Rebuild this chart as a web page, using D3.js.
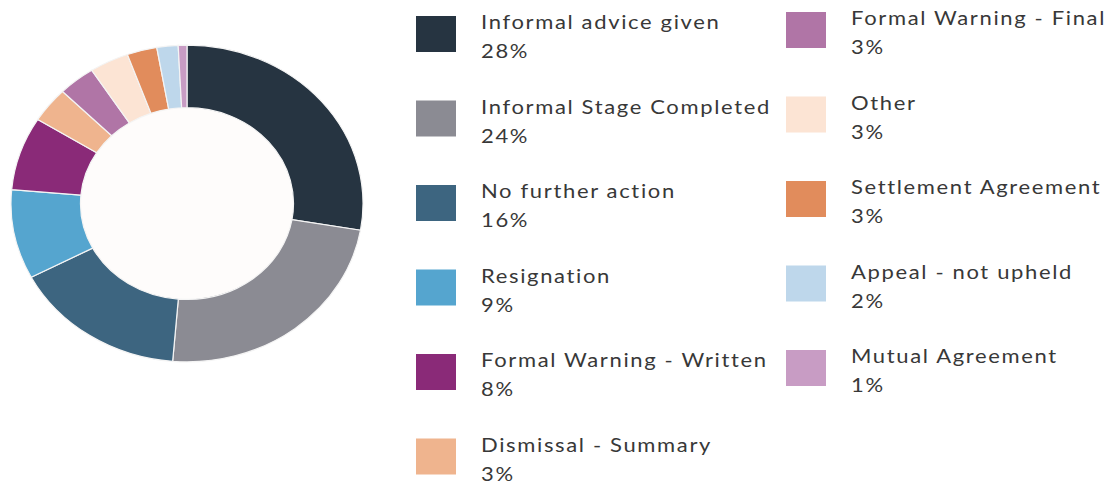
<!DOCTYPE html>
<html>
<head>
<meta charset="utf-8">
<script src="https://cdn.jsdelivr.net/npm/d3@7.9.0/dist/d3.min.js"></script>
<style>
  html, body { margin: 0; padding: 0; background: #fff; }
  svg { display: block; }
  .legend text { font-family: Lato, "Open Sans", sans-serif; font-size: 20px; letter-spacing: 1.5px; fill: #383838; }
</style>
</head>
<body>
<svg id="chart" width="1111" height="484"></svg>
<script>
const categories = [
  'Informal advice given', 'Informal Stage Completed', 'No further action',
  'Resignation', 'Formal Warning - Written', 'Dismissal - Summary',
  'Formal Warning - Final', 'Other', 'Settlement Agreement',
  'Appeal - not upheld', 'Mutual Agreement'
];
// rounded labels as printed in the legend
const percentLabels = [28, 24, 16, 9, 8, 3, 3, 3, 3, 2, 1];
// slice shares as measured off the donut
const shares = [27.7, 23.6, 16.0, 9.1, 7.5, 3.6, 3.4, 3.6, 2.75, 1.95, 0.8];
const colours = [
  '#263441', '#8b8b93', '#3d6580', '#55a5cf', '#8a2a78', '#efb48e',
  '#b075a6', '#fce4d4', '#e18c5c', '#bed7eb', '#c89cc4'
];

const data = categories.map((c, i) => ({
  label: c, value: shares[i], pct: percentLabels[i], color: colours[i]
}));

const svg = d3.select('#chart');

// donut (the original is squashed vertically)
const pieG = svg.append('g').attr('transform', 'translate(187,203.5) scale(1,0.9)');
const rOuter = 176, rInner = 106.5;

pieG.append('circle').attr('r', rInner).attr('fill', '#fefcfb');

const pie = d3.pie().sort(null).value(d => d.value);
const arc = d3.arc().innerRadius(rInner).outerRadius(rOuter);

pieG.selectAll('path')
  .data(pie(data))
  .join('path')
  .attr('d', arc)
  .attr('fill', d => d.data.color)
  .attr('stroke', '#f4f4f4')
  .attr('stroke-width', 1.2)
  .attr('vector-effect', 'non-scaling-stroke');

// legend: two columns, text is a bit stretched like the original
const cols = [
  { x: 416, top: 16, n: 6 },
  { x: 786, top: 12, n: 5 }
];
const rowStep = 84.5;
const legend = svg.append('g').attr('class', 'legend');

let idx = 0;
cols.forEach(col => {
  const items = data.slice(idx, idx + col.n);
  idx += col.n;
  const g = legend.append('g');
  const rows = g.selectAll('g')
    .data(items)
    .join('g')
    .attr('transform', (d, i) => `translate(${col.x},${col.top + i * rowStep})`);
  rows.append('rect')
    .attr('width', 40).attr('height', 36)
    .attr('fill', d => d.color);
  rows.append('text')
    .attr('transform', 'translate(65,13) scale(1.1,1)')
    .text(d => d.label);
  rows.append('text')
    .attr('transform', 'translate(65,42) scale(1.1,1)')
    .text(d => d.pct + '%');
});
</script>
</body>
</html>
